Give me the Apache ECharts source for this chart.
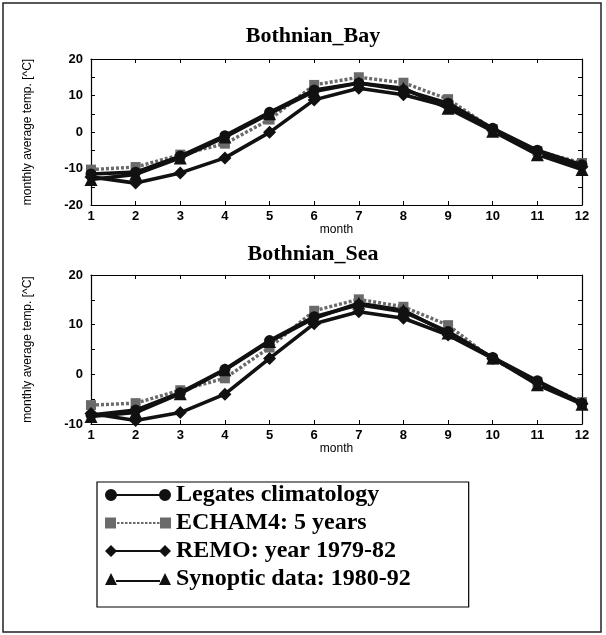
<!DOCTYPE html>
<html>
<head>
<meta charset="utf-8">
<script src="https://cdn.jsdelivr.net/npm/echarts@6.0.0/dist/echarts.min.js"></script>
<style>
  html, body { margin: 0; padding: 0; background: #fff; }
  #main { width: 606px; height: 635px; }
</style>
</head>
<body>
<div id="main"></div>
<script>
// months on x
var months = [1, 2, 3, 4, 5, 6, 7, 8, 9, 10, 11, 12];

// Bothnian Bay, monthly mean temp [C]
var bayLegates  = [-11.5, -11.0, -6.6, -1.0, 5.4, 11.5, 13.4, 11.5, 7.9, 1.0, -5.0, -9.0];
var bayEcham    = [-10.3, -9.6, -6.2, -3.2, 3.4, 12.9, 15.0, 13.5, 9.0, 0.8, -5.2, -8.5];
var bayRemo     = [-12.3, -14.0, -11.2, -7.1, -0.1, 8.8, 12.0, 10.2, 7.0, 0.5, -5.5, -9.5];
var baySynoptic = [-13.0, -11.6, -7.1, -1.4, 5.0, 11.1, 13.4, 12.0, 6.5, 0.2, -6.2, -10.3];

// Bothnian Sea
var seaLegates  = [-8.2, -7.2, -3.7, 1.0, 6.8, 11.6, 14.0, 12.6, 8.6, 3.4, -1.3, -5.8];
var seaEcham    = [-6.2, -5.8, -3.2, -0.8, 5.4, 12.8, 15.1, 13.6, 9.9, 3.0, -1.5, -5.6];
var seaRemo     = [-7.9, -9.3, -7.7, -4.0, 3.2, 10.2, 12.6, 11.3, 7.9, 3.2, -1.6, -5.9];
var seaSynoptic = [-8.5, -7.7, -3.9, 0.9, 6.6, 11.3, 14.3, 12.9, 8.3, 3.3, -2.1, -6.0];

var titles = ['Bothnian_Bay', 'Bothnian_Sea'];
var names = ['Legates climatology', 'ECHAM4: 5 years', 'REMO: year 1979-82', 'Synoptic data: 1980-92'];
var yTicksBay = [-20, 20];
var yTicksSea = [-10, 20];

var sansFont = 'Liberation Sans';
var serifFont = 'Liberation Serif';

function pairs(ys) {
  return months.map(function (m, i) { return [m, ys[i]]; });
}

// legend icons: marker - line - marker
function dashLine(x0, x1) {
  var s = '';
  for (var x = x0; x < x1; x += 4) {
    s += ' M' + x + ',5 L' + (x + 2.5) + ',5 L' + (x + 2.5) + ',7 L' + x + ',7 Z';
  }
  return s;
}
var iconCircle = 'path://M0,6 A6,6 0 1,1 12,6 A6,6 0 1,1 0,6 Z M11,5 L55,5 L55,7 L11,7 Z M54,6 A6,6 0 1,1 66,6 A6,6 0 1,1 54,6 Z';
var iconSquare = 'path://M0,0.5 L11,0.5 L11,11.5 L0,11.5 Z' + dashLine(12, 54) + ' M55,0.5 L66,0.5 L66,11.5 L55,11.5 Z';
var iconDiamond = 'path://M0,6 L6,0 L12,6 L6,12 Z M11,5 L55,5 L55,7 L11,7 Z M54,6 L60,0 L66,6 L60,12 Z';
var iconTriangle = 'path://M0,12 L6,0 L12,12 Z M11,7 L55,7 L55,9 L11,9 Z M54,12 L60,0 L66,12 Z';

function xAxisOf(grid, pos) {
  var bottom = pos === 'bottom';
  return {
    type: 'value', gridIndex: grid, position: pos,
    min: 1, max: 12, interval: 1,
    name: bottom ? 'month' : '', nameLocation: 'middle', nameGap: 17,
    nameTextStyle: { fontFamily: sansFont, fontSize: 12, color: '#000' },
    axisLine: { onZero: false, lineStyle: { color: '#000', width: 1.2 } },
    axisTick: { show: true, inside: true, length: 4, lineStyle: { color: '#000' } },
    axisLabel: { show: bottom, margin: 5, fontFamily: sansFont, fontWeight: 'bold', fontSize: 13, color: '#000' },
    splitLine: { show: false }
  };
}

function yAxisOf(grid, pos, ticks) {
  var left = pos === 'left';
  return {
    type: 'value', gridIndex: grid, position: pos,
    min: ticks[0], max: ticks[1], interval: 5,
    name: left ? 'monthly average temp. [^C]' : '', nameLocation: 'middle', nameGap: 57,
    nameTextStyle: { fontFamily: sansFont, fontSize: 12, color: '#000' },
    axisLine: { onZero: false, lineStyle: { color: '#000', width: 1.2 } },
    axisTick: { show: true, inside: true, length: 4, lineStyle: { color: '#000' } },
    axisLabel: {
      show: left, margin: 8, fontFamily: sansFont, fontWeight: 'bold', fontSize: 13, color: '#000',
      formatter: function (v) { return v % 10 === 0 ? String(v) : ''; }
    },
    splitLine: { show: false }
  };
}

function seriesOf(grid, vals) {
  var ax = grid * 2;
  return [
    { name: names[0], type: 'line', xAxisIndex: ax, yAxisIndex: ax, data: pairs(vals[0]),
      symbol: 'circle', symbolSize: 11, color: '#111', z: 4,
      lineStyle: { width: 3.6, color: '#111' } },
    { name: names[1], type: 'line', xAxisIndex: ax, yAxisIndex: ax, data: pairs(vals[1]),
      symbol: 'rect', symbolSize: 10, color: '#6a6a6a', z: 3,
      lineStyle: { width: 3.4, color: '#6a6a6a', type: [3, 2] } },
    { name: names[2], type: 'line', xAxisIndex: ax, yAxisIndex: ax, data: pairs(vals[2]),
      symbol: 'diamond', symbolSize: 13, color: '#111', z: 3,
      lineStyle: { width: 3.6, color: '#111' } },
    { name: names[3], type: 'line', xAxisIndex: ax, yAxisIndex: ax, data: pairs(vals[3]),
      symbol: 'triangle', symbolSize: 13, color: '#111', z: 3,
      lineStyle: { width: 3.6, color: '#111' } }
  ];
}

var chart = echarts.init(document.getElementById('main'), null, { renderer: 'canvas' });

var option = {
  backgroundColor: '#fff',
  animation: false,
  title: [
    { text: titles[0], left: 313, top: 25, textAlign: 'center', padding: 0,
      textStyle: { fontFamily: serifFont, fontWeight: 'bold', fontSize: 22, color: '#000' } },
    { text: titles[1], left: 313, top: 243, textAlign: 'center', padding: 0,
      textStyle: { fontFamily: serifFont, fontWeight: 'bold', fontSize: 22, color: '#000' } }
  ],
  grid: [
    { left: 91, top: 59, width: 491, height: 146, outerBoundsMode: 'none', containLabel: false },
    { left: 91, top: 275, width: 491, height: 149, outerBoundsMode: 'none', containLabel: false }
  ],
  xAxis: [xAxisOf(0, 'bottom'), xAxisOf(0, 'top'), xAxisOf(1, 'bottom'), xAxisOf(1, 'top')],
  yAxis: [yAxisOf(0, 'left', yTicksBay), yAxisOf(0, 'right', yTicksBay),
          yAxisOf(1, 'left', yTicksSea), yAxisOf(1, 'right', yTicksSea)],
  legend: {
    orient: 'vertical', left: 97, top: 482,
    padding: [1, 58, 16, 8], itemGap: 4, itemWidth: 66, itemHeight: 12,
    borderColor: '#000', borderWidth: 1.2, backgroundColor: '#fff',
    selectedMode: false,
    textStyle: { fontFamily: serifFont, fontWeight: 'bold', fontSize: 24, color: '#000' },
    data: [
      { name: names[0], icon: iconCircle },
      { name: names[1], icon: iconSquare },
      { name: names[2], icon: iconDiamond },
      { name: names[3], icon: iconTriangle }
    ]
  },
  // outer frame of the figure
  graphic: [
    { type: 'rect', silent: true, shape: { x: 3, y: 3, width: 598, height: 629 },
      style: { fill: null, stroke: '#222', lineWidth: 1.5 } }
  ],
  series: seriesOf(0, [bayLegates, bayEcham, bayRemo, baySynoptic])
    .concat(seriesOf(1, [seaLegates, seaEcham, seaRemo, seaSynoptic]))
};

chart.setOption(option);
</script>
</body>
</html>
